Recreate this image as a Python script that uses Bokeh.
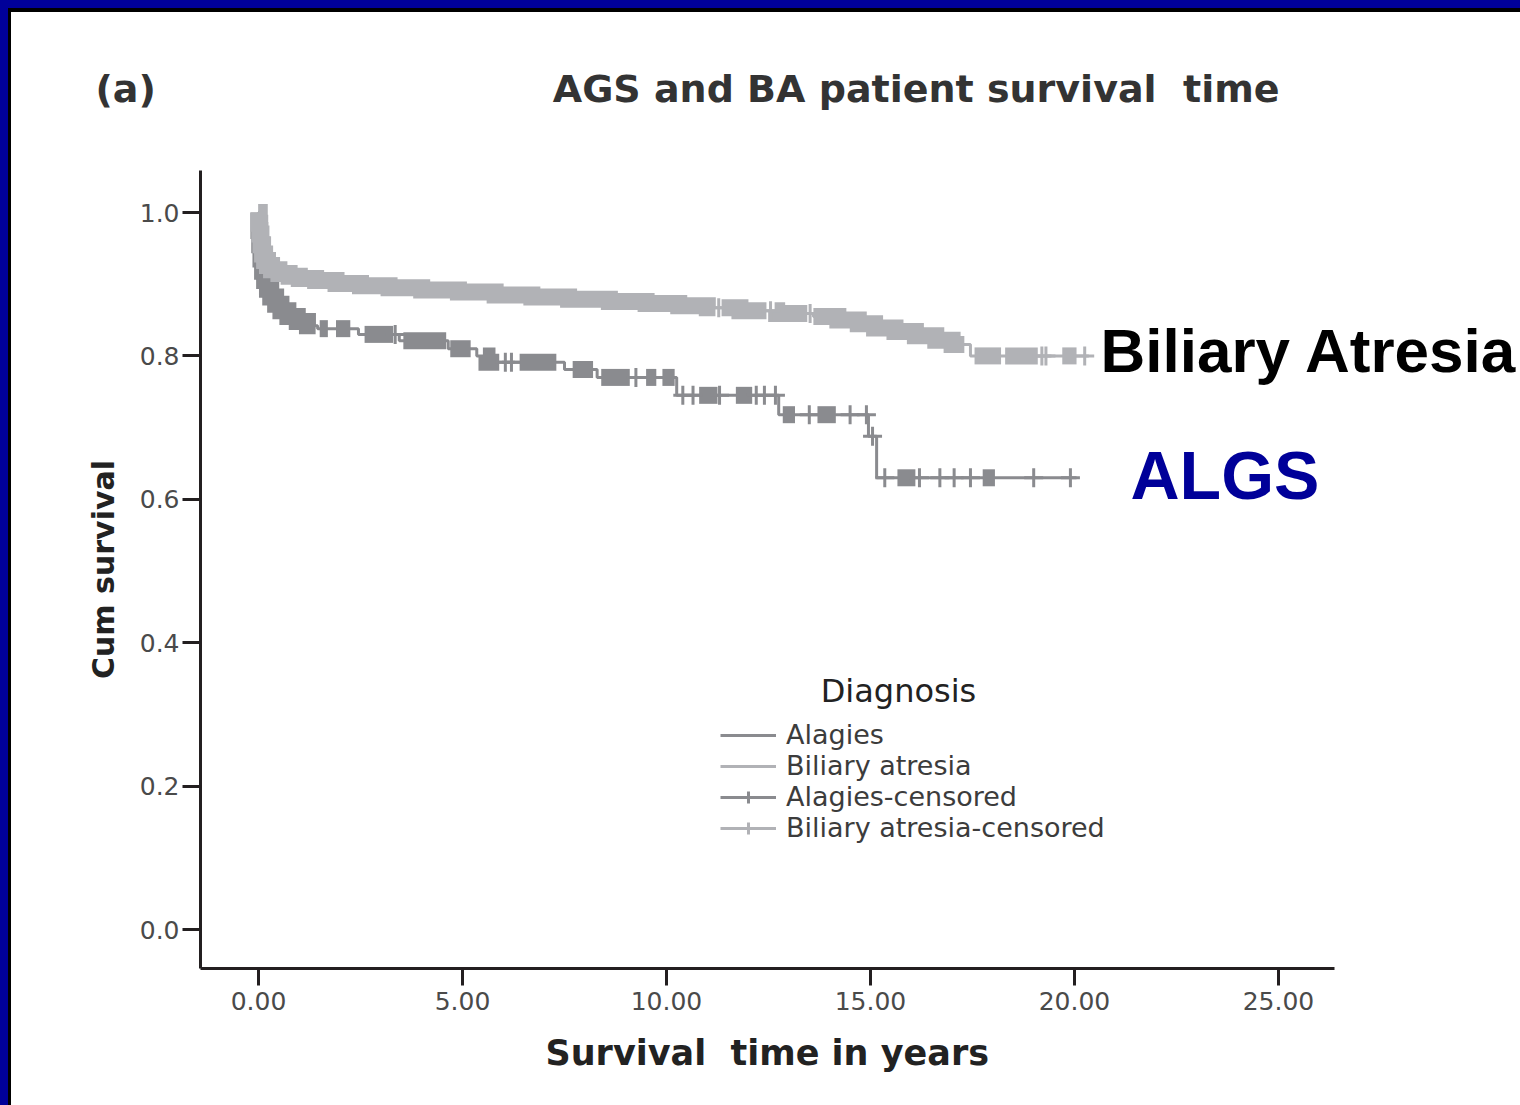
import numpy as np
from bokeh.plotting import figure
from bokeh.models import Legend, LegendItem, Range1d, FixedTicker, NumeralTickFormatter, Label, Title
from bokeh.embed import file_html
from bokeh.resources import INLINE

# ---------------- data ----------------
TITLE = "AGS and BA patient survival  time"
PANEL = "(a)"
X_LABEL = "Survival  time in years"
Y_LABEL = "Cum survival"
LEGEND_TITLE = "Diagnosis"
LEGEND_LABELS = ["Alagies", "Biliary atresia", "Alagies-censored", "Biliary atresia-censored"]
X_TICKS = [0, 5, 10, 15, 20, 25]
Y_TICKS = [0.0, 0.2, 0.4, 0.6, 0.8, 1.0]

# Alagille (ALGS) Kaplan-Meier steps: time (years) and survival after the step
ALGS_T = [0.0, 0.01, 0.03, 0.06, 0.10, 0.15, 0.22, 0.30, 0.42, 0.55, 0.72, 0.95, 1.20, 1.45,
          2.45, 3.45, 4.65, 5.35, 5.60, 7.50, 8.30, 10.25, 12.75, 14.95, 15.15, 20.05]
ALGS_S = [1.0, 0.975, 0.955, 0.935, 0.918, 0.905, 0.893, 0.882, 0.872, 0.863, 0.855, 0.848, 0.842, 0.838,
          0.830, 0.821, 0.810, 0.800, 0.791, 0.781, 0.770, 0.745, 0.718, 0.688, 0.630, 0.630]
# runs of densely packed censor marks (start, end) and isolated censor marks
ALGS_RUN_START = [0.00, 1.50, 1.90, 2.60, 3.55, 4.70, 5.50, 6.40, 7.70, 8.40, 9.50, 9.90,
                  10.80, 11.70, 12.85, 13.70, 15.66, 17.75]
ALGS_RUN_END = [1.40, 1.70, 2.25, 3.30, 4.60, 5.20, 5.90, 7.30, 8.20, 9.10, 9.75, 10.20,
                11.25, 12.10, 13.15, 14.15, 16.10, 18.05]
ALGS_CENSOR = [3.35, 6.05, 6.20, 9.25, 10.40, 10.65, 11.30, 12.20, 12.40, 12.67, 13.50, 14.50,
               14.90, 15.05, 15.35, 16.20, 16.70, 17.05, 17.45, 19.00, 19.90]

# Biliary atresia (BA)
BA_T = [0.0, 0.01, 0.03, 0.06, 0.10, 0.15, 0.22, 0.32, 0.50, 0.75, 1.00, 1.40, 1.90, 2.50, 3.20,
        4.00, 4.90, 5.80, 6.70, 7.60, 8.60, 9.50, 10.30, 11.00, 11.80, 12.70, 13.60, 14.20, 14.70,
        15.10, 15.60, 16.10, 16.60, 17.00, 17.45, 20.35]
BA_S = [1.0, 0.985, 0.970, 0.955, 0.942, 0.933, 0.926, 0.920, 0.915, 0.911, 0.908, 0.905, 0.901,
        0.898, 0.895, 0.892, 0.889, 0.885, 0.882, 0.879, 0.876, 0.873, 0.870, 0.867, 0.863, 0.859,
        0.855, 0.850, 0.845, 0.839, 0.834, 0.828, 0.822, 0.816, 0.800, 0.800]
BA_RUN_START = [0.00, 11.35, 12.65, 13.60, 17.55, 18.30, 19.70]
BA_RUN_END = [11.20, 12.45, 13.45, 17.30, 18.20, 19.10, 20.05]
BA_CENSOR = [11.28, 12.55, 13.52, 19.20, 19.30, 20.25]

SIDE_LABELS = ["Biliary Atresia", "ALGS"]

# ---------------- layout / style ----------------
W, H = 1520, 1105
FL, FT, FB = 200, 170, 968            # plot frame (left, top, bottom) in pixels; frame runs to right edge
AX_RIGHT = 1334                       # visible end of the x-axis line
X_ORIGIN, X_PER = 258, 40.8           # pixel of t=0, pixels per year
Y_ORIGIN, Y_PER = 929, 717            # pixel of S=0, pixels per unit


def dx(px):
    return (px - X_ORIGIN) / X_PER


def dy(py):
    return (Y_ORIGIN - py) / Y_PER


def keep_spaces(s):
    return s.replace("  ", " \u00a0")


C_ALGS = "#8a8b8f"
C_BA = "#b1b2b6"
C_AXIS = "#231f20"
C_TICKLBL = "#4a4a4a"
BLUE = "#000099"

p = figure(width=W, height=H, output_backend="svg", toolbar_location=None,
           x_range=Range1d(dx(FL), dx(W)), y_range=Range1d(dy(FB), dy(FT)),
           min_border_left=FL, min_border_right=0, min_border_top=FT,
           min_border_bottom=H - FB)
# slide frame: blue band with a black rule along the top and left edges
p.styles = {"background": (
    f"linear-gradient({BLUE},{BLUE}) 0 0 / 100% 8px no-repeat, "
    f"linear-gradient({BLUE},{BLUE}) 0 0 / 8px 100% no-repeat, "
    "linear-gradient(#000,#000) 0 8px / 100% 4px no-repeat, "
    "linear-gradient(#000,#000) 8px 0 / 3px 100% no-repeat, #ffffff")}
p.background_fill_color = "white"
p.border_fill_color = None
p.outline_line_color = None
p.xgrid.visible = False
p.ygrid.visible = False

for ax in (p.xaxis[0], p.yaxis[0]):
    ax.axis_line_width = 3
    ax.axis_line_color = C_AXIS
    ax.major_tick_line_width = 3
    ax.major_tick_line_color = C_AXIS
    ax.major_tick_in = 0
    ax.minor_tick_line_color = None
    ax.major_label_text_font = "DejaVu Sans"
    ax.major_label_text_font_size = "25px"
    ax.major_label_text_color = C_TICKLBL
    ax.axis_label_text_font = "DejaVu Sans"
    ax.axis_label_text_font_style = "bold"
    ax.axis_label_text_color = "#222222"

p.xaxis.bounds = (dx(FL), dx(AX_RIGHT))
p.xaxis.ticker = FixedTicker(ticks=X_TICKS)
p.yaxis.ticker = FixedTicker(ticks=Y_TICKS)
p.xaxis.formatter = NumeralTickFormatter(format="0.00")
p.yaxis.formatter = NumeralTickFormatter(format="0.0")
p.xaxis.major_tick_out = 17
p.yaxis.major_tick_out = 18
p.xaxis.major_label_standoff = 6
p.yaxis.major_label_standoff = 3
p.yaxis.axis_label = Y_LABEL
p.yaxis.axis_label_text_font_size = "30px"
p.yaxis.axis_label_standoff = 16

# panel letter + title share the line above the plot
title = Title(text=PANEL + "\u00a0" * 30 + keep_spaces(TITLE), align="left", offset=95 - FL,
              standoff=120, text_font="DejaVu Sans", text_font_style="bold",
              text_font_size="38px", text_color="#333333")
p.add_layout(title, "above")

# x-axis caption, centred under the drawn axis line (not under the wider frame)
xcap = Title(text=keep_spaces(X_LABEL), align="left", offset=545 - FL, standoff=36,
             text_font="DejaVu Sans", text_font_style="bold", text_font_size="35px",
             text_color="#222222")
p.add_layout(xcap, "below")


def surv_at(T, S, t):
    i = int(np.searchsorted(np.asarray(T), t, side="right")) - 1
    return S[max(i, 0)]


def run_paths(T, S, starts, ends):
    xs_all, ys_all = [], []
    for a, b in zip(starts, ends):
        xs, ys = [a], [surv_at(T, S, a)]
        for ti, si in zip(T, S):
            if a < ti < b:
                xs += [ti, ti]
                ys += [ys[-1], si]
        xs.append(b)
        ys.append(ys[-1])
        xs_all.append(xs)
        ys_all.append(ys)
    return xs_all, ys_all


renderers = {}
for name, T, S, rs, re_, cen, col in [
        ("ALGS", ALGS_T, ALGS_S, ALGS_RUN_START, ALGS_RUN_END, ALGS_CENSOR, C_ALGS),
        ("BA", BA_T, BA_S, BA_RUN_START, BA_RUN_END, BA_CENSOR, C_BA)]:
    line = p.step(x=T, y=S, mode="after", line_width=3, line_color=col)
    xs, ys = run_paths(T, S, rs, re_)
    p.multi_line(xs=xs, ys=ys, line_width=17, line_color=col, line_join="miter", line_cap="butt")
    cy = [surv_at(T, S, t) for t in cen]
    ticks = p.scatter(x=cen, y=cy, marker="cross", size=19, line_width=3, line_color=col)
    renderers[name] = (line, ticks)

legend = Legend(items=[
    LegendItem(label=LEGEND_LABELS[0], renderers=[renderers["ALGS"][0]]),
    LegendItem(label=LEGEND_LABELS[1], renderers=[renderers["BA"][0]]),
    LegendItem(label=LEGEND_LABELS[2], renderers=[renderers["ALGS"][0], renderers["ALGS"][1]]),
    LegendItem(label=LEGEND_LABELS[3], renderers=[renderers["BA"][0], renderers["BA"][1]]),
], location=(720 - FL, FB - 843))
legend.padding = 0
legend.margin = 0
legend.spacing = 0
legend.glyph_width = 56
legend.glyph_height = 30
legend.label_height = 30
legend.label_standoff = 10
legend.label_text_font = "DejaVu Sans"
legend.label_text_font_size = "27px"
legend.label_text_color = "#3c3c3c"
legend.border_line_color = None
legend.background_fill_alpha = 0
p.add_layout(legend, "center")

p.add_layout(Label(x=dx(898), y=dy(690), text=LEGEND_TITLE, text_align="center",
                   text_baseline="middle", text_font="DejaVu Sans", text_font_size="32px",
                   text_color="#222222"))
p.add_layout(Label(x=dx(1100), y=dy(350), text=SIDE_LABELS[0], text_align="left",
                   text_baseline="middle", text_font="Liberation Sans", text_font_style="bold",
                   text_font_size="62px", text_color="black"))
p.add_layout(Label(x=dx(1130), y=dy(474), text=SIDE_LABELS[1], text_align="left",
                   text_baseline="middle", text_font="Liberation Sans", text_font_style="bold",
                   text_font_size="68px", text_color=BLUE))

open("out.html", "w").write(file_html(p, INLINE))
